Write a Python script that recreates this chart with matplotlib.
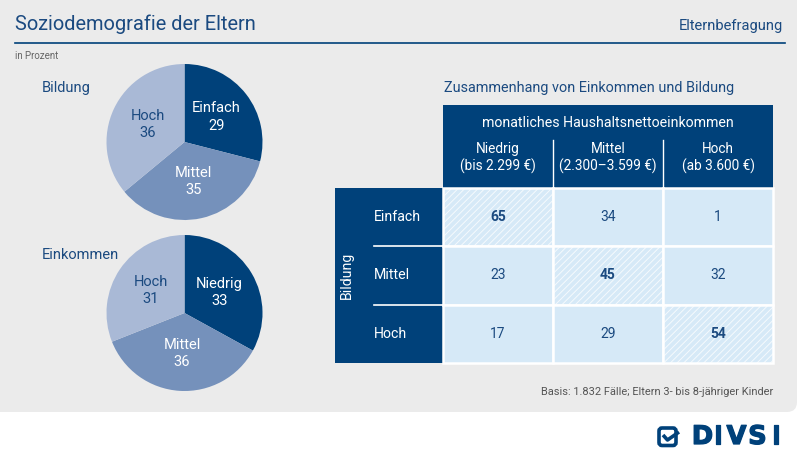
import numpy as np
import matplotlib
matplotlib.use('Agg')
import matplotlib.pyplot as plt
import matplotlib.patheffects as pe
from matplotlib.patches import Rectangle, FancyBboxPatch

plt.rcParams['font.family'] = ['Roboto', 'DejaVu Sans']
plt.rcParams['hatch.linewidth'] = 0.7

# 데이터
bildung_labels = ['Einfach', 'Mittel', 'Hoch']
bildung_values = [29, 35, 36]
einkommen_labels = ['Niedrig', 'Mittel', 'Hoch']
einkommen_values = [33, 36, 31]

col_labels = ['Niedrig', 'Mittel', 'Hoch']
col_ranges = ['(bis 2.299 €)', '(2.300–3.599 €)', '(ab 3.600 €)']
row_labels = ['Einfach', 'Mittel', 'Hoch']
matrix = [[65, 34, 1],
          [23, 45, 32],
          [17, 29, 54]]

DARK = '#00417a'
MID = '#7591bb'
LIGHT = '#a9b9d6'
CELL = '#d6e9f7'
GREY = '#ebebeb'
TXT = '#1b4a80'
pie_colors = [DARK, MID, LIGHT]
pie_text_colors = ['white', 'white', TXT]

W, H = 800, 463
fig = plt.figure(figsize=(W / 100, H / 100), dpi=100, facecolor='white')
ax = fig.add_axes([0, 0, 1, 1])
ax.set_xlim(0, W)
ax.set_ylim(H, 0)
ax.axis('off')

# 회색 배경 패널
ax.add_patch(FancyBboxPatch((-20, -20), 817, 432, boxstyle='round,pad=0,rounding_size=10',
                            facecolor=GREY, edgecolor='none'))

ax.text(15, 24, 'Soziodemografie der Eltern', fontsize=14.4, color=TXT, va='center')
ax.text(783, 26, 'Elternbefragung', fontsize=10.5, color=TXT, va='center', ha='right')
ax.plot([15, 785], [43, 43], color=DARK, lw=1.2)
ax.text(15, 56, 'in Prozent', fontsize=7, color='#666666', va='center')

ax.text(42, 88, 'Bildung', fontsize=10.5, color=TXT, va='center')
ax.text(42, 255, 'Einkommen', fontsize=10.5, color=TXT, va='center')


def draw_pie(cx, cy, r, values, labels):
    pax = fig.add_axes([(cx - r) / W, 1 - (cy + r) / H, 2 * r / W, 2 * r / H])
    texts = pax.pie(values, labels=[f'{l}\n{v}' for l, v in zip(labels, values)],
                    colors=pie_colors, startangle=90, counterclock=False,
                    labeldistance=0.52, wedgeprops=dict(linewidth=0),
                    textprops=dict(fontsize=10.5, ha='center', va='center', linespacing=1.3))[1]
    for t, c in zip(texts, pie_text_colors):
        t.set_color(c)
        t.set_ha('center')
    pax.set_xlim(-1, 1)
    pax.set_ylim(-1, 1)
    pax.set_aspect('equal')


draw_pie(184.5, 142, 78, bildung_values, bildung_labels)
draw_pie(184.5, 313, 78, einkommen_values, einkommen_labels)

# 교차표
ax.text(444, 88, 'Zusammenhang von Einkommen und Bildung', fontsize=10.4, color=TXT, va='center')
x0, cw = 443, 110
y0, rh = 188, 58.3
n = len(col_labels)
ax.add_patch(Rectangle((x0, 105), cw * n, y0 - 105, facecolor=DARK, edgecolor='none'))
ax.text(x0 + cw * n / 2, 123, 'monatliches Haushaltsnettoeinkommen', fontsize=10.2,
        color='white', ha='center', va='center')
for j in range(n):
    xc = x0 + cw * (j + 0.5)
    ax.text(xc, 149, col_labels[j], fontsize=9.8, color='white', ha='center', va='center')
    ax.text(xc, 166, col_ranges[j], fontsize=9.8, color='white', ha='center', va='center')
    if j > 0:
        ax.plot([x0 + cw * j] * 2, [140, y0], color='white', lw=1)

ax.add_patch(Rectangle((335, y0), x0 - 335, rh * n, facecolor=DARK, edgecolor='none'))
ax.text(347, y0 + rh * n / 2, 'Bildung', fontsize=10.2, color='white', rotation=90,
        ha='center', va='center')
for i in range(n):
    yc = y0 + rh * (i + 0.5)
    ax.text(374, yc, row_labels[i], fontsize=10.2, color='white', va='center')
    if i > 0:
        ax.plot([374, x0], [y0 + rh * i] * 2, color='white', lw=1.2)
    for j in range(n):
        diag = i == j
        ax.add_patch(Rectangle((x0 + cw * j, y0 + rh * i), cw, rh, facecolor=CELL,
                               edgecolor='none'))
        if diag:
            ax.add_patch(Rectangle((x0 + cw * j, y0 + rh * i), cw, rh, facecolor='none',
                                   edgecolor=(1, 1, 1, 0.75), lw=0, hatch='/////'))
        ax.add_patch(Rectangle((x0 + cw * j, y0 + rh * i), cw, rh, facecolor='none',
                               edgecolor='white', lw=1.8))
        ax.text(x0 + cw * (j + 0.5), yc, str(matrix[i][j]), fontsize=10, color=TXT,
                ha='center', va='center', fontweight='bold' if diag else 'normal')

ax.text(773, 392, 'Basis: 1.832 Fälle; Eltern 3- bis 8-jähriger Kinder', fontsize=7.9,
        color='#555555', ha='right', va='center')

# 로고 (글자 간격이 넓어서 한 글자씩 배치)
ax.add_patch(FancyBboxPatch((659, 428), 17, 17.5, boxstyle='round,pad=0,rounding_size=3',
                            facecolor='none', edgecolor=DARK, lw=2.6))
ax.plot([663, 667.5, 679], [435, 440, 432], color=DARK, lw=2.6, solid_capstyle='butt')
for ch, xc in zip('DIVSI', [702.5, 718, 736.5, 757.5, 776]):
    ax.text(xc, 437, ch, fontsize=18.5, fontweight='bold', color=DARK, ha='center',
            va='center', family='DejaVu Sans',
            path_effects=[pe.withStroke(linewidth=0.9, foreground=DARK)])

fig.savefig('out.png', dpi=100, facecolor='white')
